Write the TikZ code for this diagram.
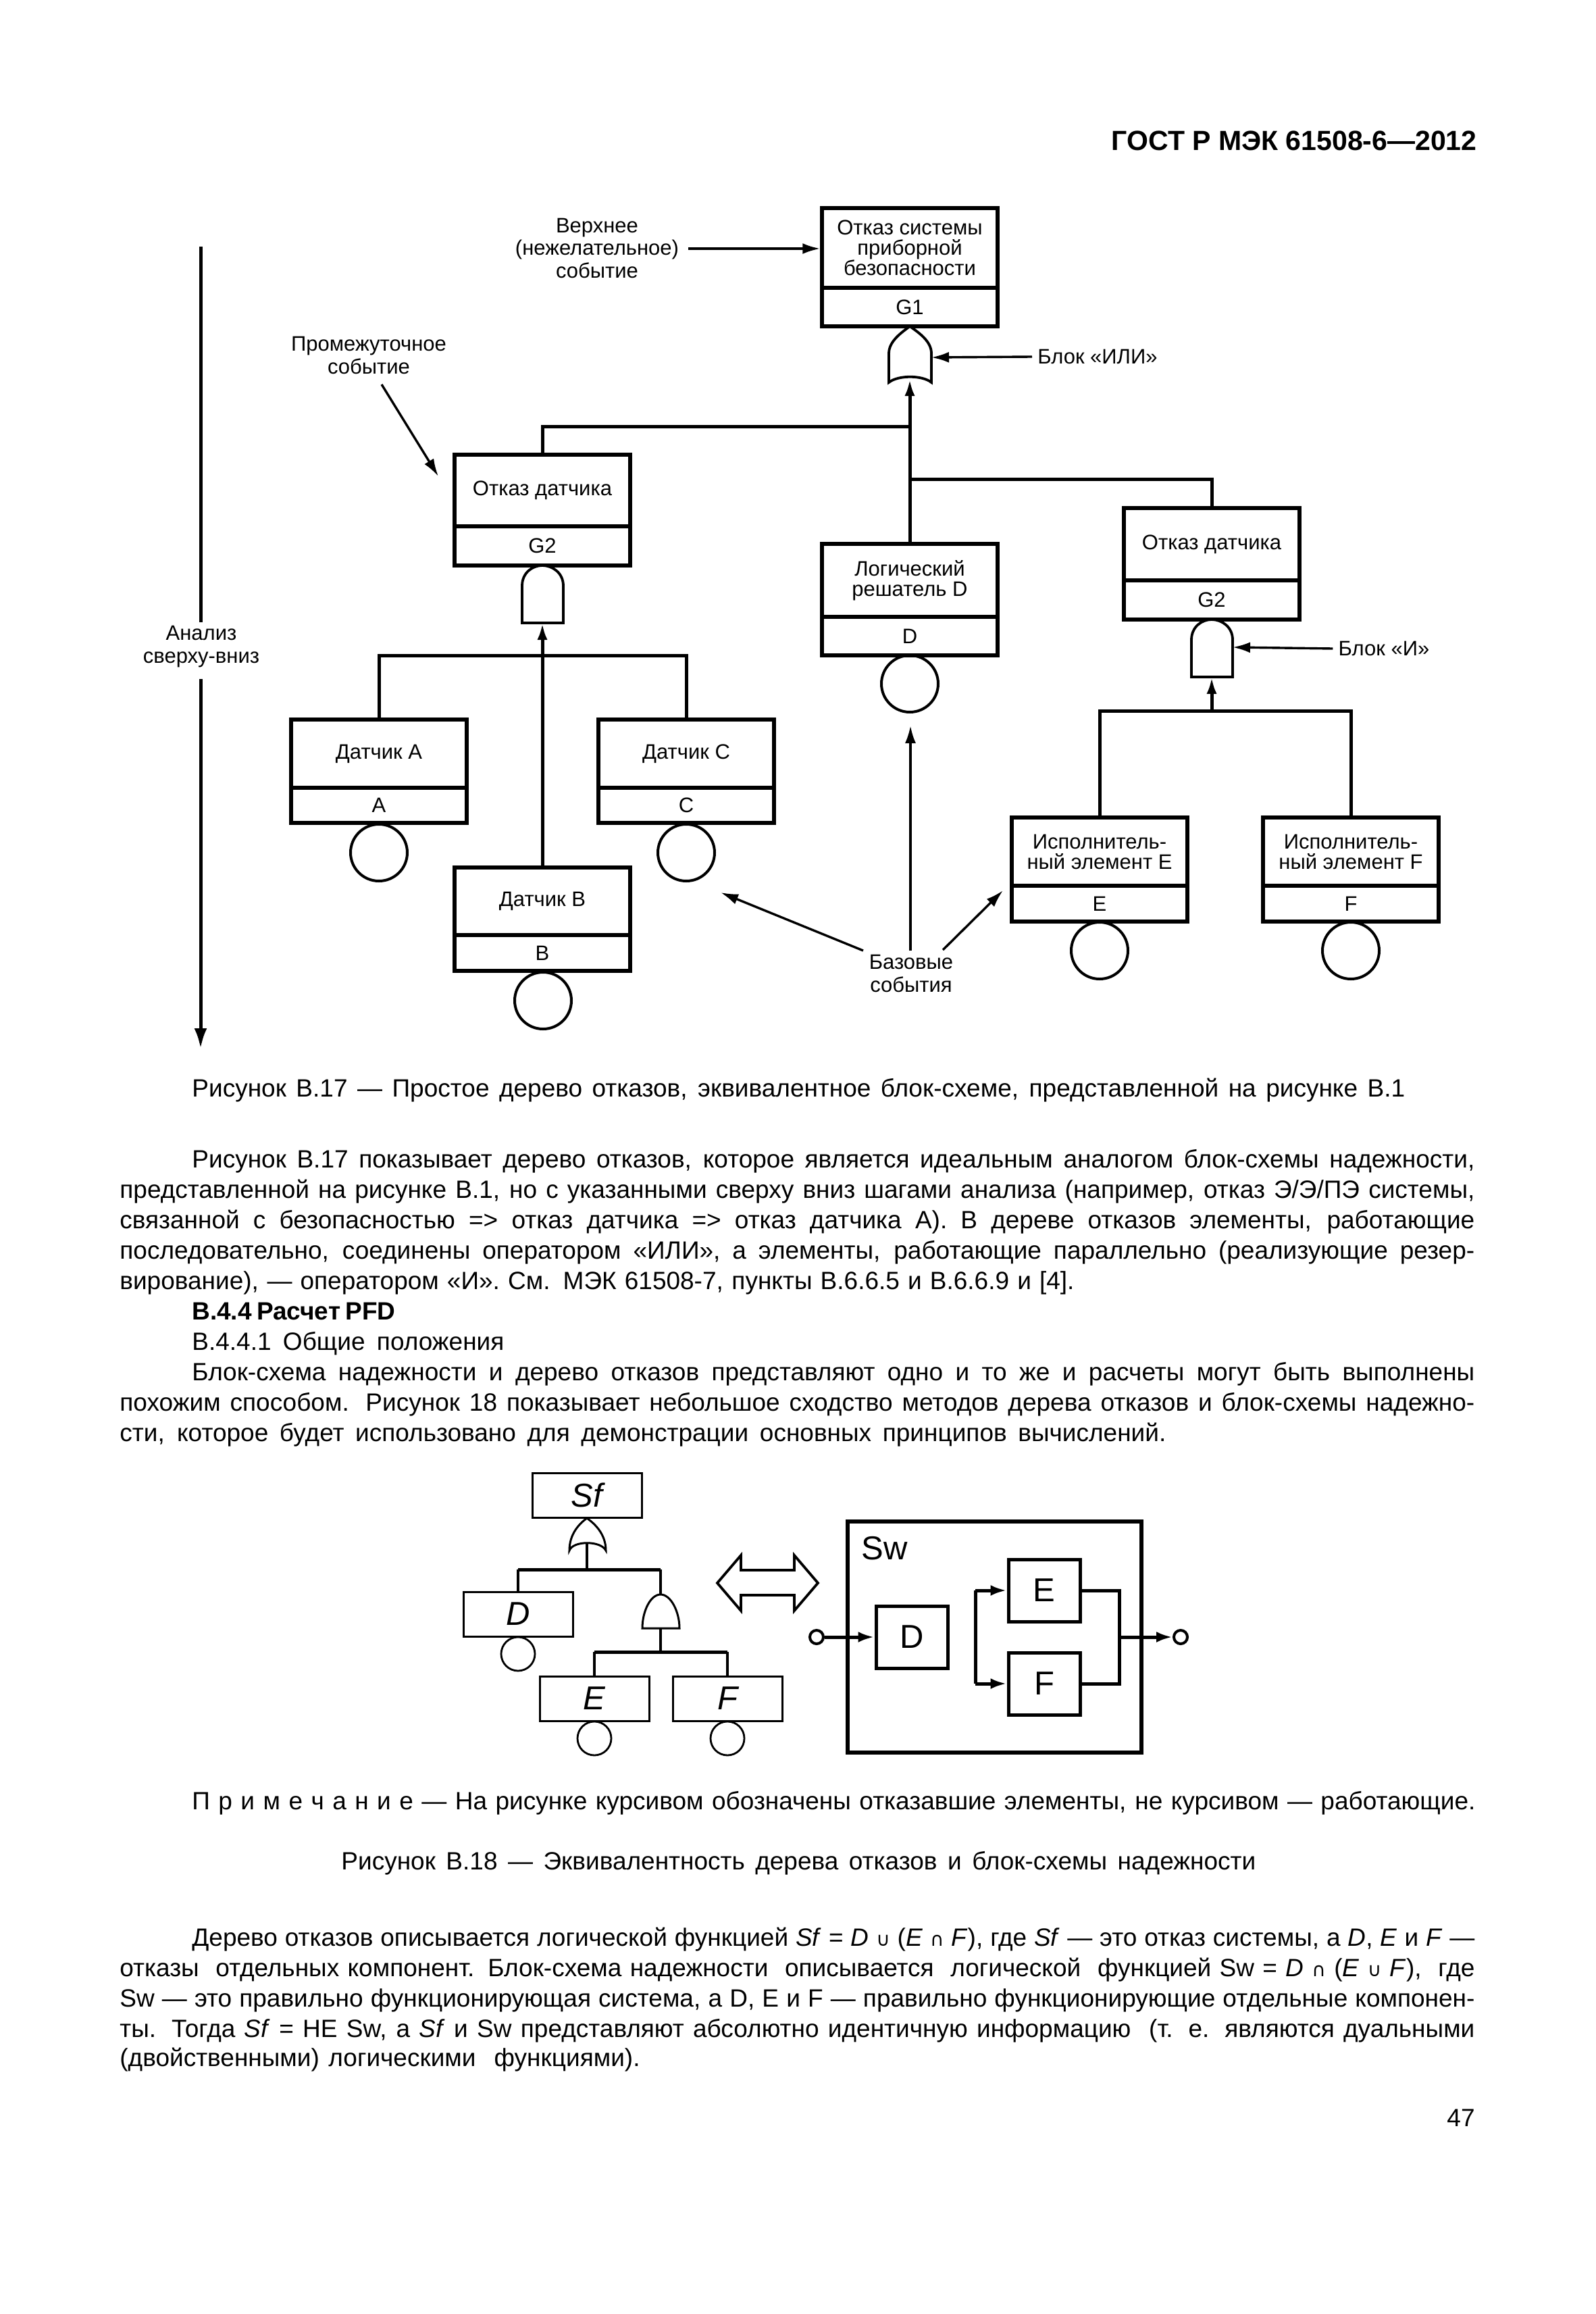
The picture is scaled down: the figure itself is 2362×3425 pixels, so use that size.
\documentclass[tikz,border=0pt]{standalone}
\usepackage{fontspec}
\setmainfont{Liberation Sans}
\newfontfamily\symf{DejaVu Sans}
\usetikzlibrary{arrows.meta}
\newcommand{\labelf}{\fontsize{15.5}{15}\selectfont}
\newcommand{\notef}{\fontsize{15.5}{16.75}\selectfont}
\newcommand{\bodyf}{\fontsize{18.5}{22.5}\selectfont}
\newcommand{\bigf}{\fontsize{24.5}{26}\selectfont}
\newcommand{\cupS}{{\symf\fontsize{14}{14}\selectfont ∪}}
\newcommand{\capS}{{\symf\fontsize{14}{14}\selectfont ∩}}
\tikzset{
  ftcell/.style={draw,line width=2.75pt,inner sep=0pt,minimum width=130pt,align=center,font=\labelf},
  evt/.style={draw,circle,line width=2pt,inner sep=0pt,minimum size=42pt},
  lbl/.style={inner sep=0pt,align=center,font=\notef},
  conn/.style={line width=2.5pt},
  connarrow/.style={line width=2.5pt,-{Latex[length=12.5pt,width=7.5pt]}},
  notearrow/.style={line width=1.7pt,-{Latex[length=13pt,width=8pt]}},
  gateline/.style={line width=1.9pt,fill=white},
  thinbox/.style={draw,line width=1.5pt,inner sep=0pt,minimum width=81pt,minimum height=33pt,font=\bigf\itshape},
  smallevt/.style={draw,circle,line width=1.4pt,inner sep=0pt,minimum size=25pt},
  rbdbox/.style={draw,line width=2.5pt,inner sep=0pt,minimum width=53pt,minimum height=46pt,font=\bigf},
  rbdconn/.style={line width=2.5pt},
  rbdarrow/.style={line width=2.5pt,-{Latex[length=12pt,width=8pt]}},
  smallbus/.style={line width=2.5pt},
  smallconn/.style={line width=1.8pt},
  bodytext/.style={anchor=base west,inner sep=0pt,font=\bodyf},
  orgate/.pic={\draw[gateline] (-31,83) -- (-31,40) .. controls (-31,22) and (-12,9) .. (0,0) .. controls (13,9) and (32,22) .. (32,40) -- (32,83) .. controls (18,72) and (-17,72) .. cycle;},
  andgate/.pic={\draw[gateline] (-30,85) -- (-30,30) .. controls (-30,11) and (-15,0) .. (0,0) .. controls (15,0) and (31,11) .. (31,30) -- (31,85) -- cycle;},
  smallor/.pic={\draw[line width=1.5pt,fill=white] (-26,48) .. controls (-26,23) and (-11,8) .. (0,0) .. controls (11,8) and (28,23) .. (28,48) .. controls (21,33) and (-21,33) .. cycle;},
  smalland/.pic={\draw[line width=1.5pt,fill=white] (-27,50) .. controls (-27,25) and (-15,0) .. (0,0) .. controls (15,0) and (28,25) .. (28,50) -- cycle;},
}
% name, centre x, top, divider, bottom, title, code
\newcommand{\FT}[7]{%
  \node[ftcell,minimum height={(#4-#3)*0.5pt}] (#1) at ({#2},{(#3+#4)/2}) {#6};
  \node[ftcell,minimum height={(#5-#4)*0.5pt}] (#1c) at ({#2},{(#4+#5)/2}) {#7};
}
% name, x, baseline, width in px, text
\newcommand{\Ln}[5]{\node[bodytext] (#1) at (#2,#3) {\hbox to \dimexpr#4pt/2\relax{#5}};}
\begin{document}
\begin{tikzpicture}[x=0.5pt,y=-0.5pt]
\useasboundingbox (0,0) rectangle (2362,3425);
\fill[white] (0,0) rectangle (2362,3425);

\node[anchor=base east,inner sep=0pt,font=\fontsize{20.5}{22}\selectfont\bfseries] (head) at (2187,223) {ГОСТ Р МЭК 61508-6—2012};

% Figure B.17 boxes
\FT{top}{1347}{308}{426}{483}{Отказ системы\\приборной\\безопасности}{G1}
\FT{gl}{803}{673}{779}{837}{Отказ датчика}{G2}
\FT{sol}{1347}{805}{913}{970}{Логический\\решатель D}{D}
\FT{gr}{1794}{752}{859}{917}{Отказ датчика}{G2}
\FT{a}{561}{1065}{1166}{1218}{Датчик A}{A}
\FT{c}{1016}{1065}{1166}{1218}{Датчик C}{C}
\FT{b}{803}{1284}{1384}{1437}{Датчик B}{B}
\FT{e}{1628}{1210}{1311}{1364}{Исполнитель-\\ный элемент E}{E}
\FT{f}{2000}{1210}{1311}{1364}{Исполнитель-\\ный элемент F}{F}

\node[evt] (so) at (1347,1012) {};
\node[evt] (ao) at (561,1262) {};
\node[evt] (co) at (1016,1262) {};
\node[evt] (bo) at (804,1481) {};
\node[evt] (eo) at (1628,1407) {};
\node[evt] (fo) at (2000,1407) {};

% gates
\pic at (1347,483) {orgate};
\pic at (803,837) {andgate};
\pic at (1794,917) {andgate};
\coordinate (orin) at (1347,561);
\coordinate (orside) at (1379,529);
\coordinate (glin) at (803,922);
\coordinate (grin) at (1794,1002);
\coordinate (grside) at (1825,958);
\coordinate (busT) at (1347,631);
\coordinate (busB) at (1347,709);
\coordinate (busL) at (803,970);
\coordinate (busR) at (1794,1052);

% connectors
\draw[connarrow] (sol.north) -- (orin);
\draw[conn] (gl.north) |- (busT);
\draw[conn] (busB) -| (gr.north);
\draw[connarrow] (b.north) -- (glin);
\draw[conn] (a.north) |- (busL);
\draw[conn] (c.north) |- (busL);
\draw[connarrow] (busR) -- (grin);
\draw[conn] (e.north) |- (busR);
\draw[conn] (f.north) |- (busR);

% annotations
\node[lbl] (tv) at (884,367) {Верхнее\\(нежелательное)\\событие};
\coordinate (tva) at (1019,368);
\draw[notearrow] (tva) -- (top.west |- tva);
\node[lbl] (pr) at (546,526) {Промежуточное\\событие};
\coordinate (pra) at (565,569);
\coordinate (prb) at (649,705);
\draw[notearrow] (pra) -- (prb);
\node[lbl] (bor) at (1625,528) {Блок «ИЛИ»};
\draw[notearrow] (bor.west) ++(-8,0) -- (orside);
\node[lbl] (band) at (2049,960) {Блок «И»};
\draw[notearrow] (band.west) ++(-8,0) -- (grside);
\node[lbl] (bas) at (1349,1441) {Базовые\\события};
\coordinate (ba1) at (1278,1407);
\coordinate (ba2) at (1067,1321);
\coordinate (ba3) at (1396,1406);
\coordinate (ba4) at (1485,1318);
\coordinate (ba5) at (1348,1407);
\coordinate (ba6) at (1348,1074);
\draw[notearrow] (ba1) -- (ba2);
\draw[notearrow] (ba3) -- (ba4);
\draw[notearrow] (ba5) -- (ba6);
\node[lbl] (an) at (298,957) {Анализ\\сверху-вниз};
\coordinate (anT) at (297,365);
\coordinate (anM) at (297,921);
\coordinate (anN) at (297,1005);
\coordinate (anB) at (297,1552);
\draw[line width=2.5pt] (anT) -- (anM);
\draw[line width=2.5pt,-{Latex[length=15pt,width=9.5pt]}] (anN) -- (anB);

\Ln{cap17}{284}{1623}{1796}{Рисунок В.17 — Простое дерево отказов, эквивалентное блок-схеме, представленной на рисунке В.1}

\Ln{p1}{284}{1728}{1899}{Рисунок В.17 показывает дерево отказов, которое является идеальным аналогом блок-схемы надежности,}
\Ln{p2}{177}{1773}{2006}{представленной на рисунке В.1, но с указанными сверху вниз шагами анализа (например, отказ Э/Э/ПЭ системы,}
\Ln{p3}{177}{1818}{2006}{связанной с безопасностью => отказ датчика => отказ датчика А). В дереве отказов элементы, работающие}
\Ln{p4}{177}{1863}{2006}{последовательно, соединены оператором «ИЛИ», а элементы, работающие параллельно (реализующие резер-}
\Ln{p5}{177}{1908}{1413}{вирование), — оператором «И». См. МЭК 61508-7, пункты В.6.6.5 и В.6.6.9 и [4].}
\Ln{p6}{284}{1953}{301}{\bfseries В.4.4 Расчет PFD}
\Ln{p7}{284}{1998}{462}{В.4.4.1 Общие положения}
\Ln{p8}{284}{2043}{1899}{Блок-схема надежности и дерево отказов представляют одно и то же и расчеты могут быть выполнены}
\Ln{p9}{177}{2088}{2006}{похожим способом. Рисунок 18 показывает небольшое сходство методов дерева отказов и блок-схемы надежно-}
\Ln{p10}{177}{2133}{1549}{сти, которое будет использовано для демонстрации основных принципов вычислений.}

% Figure B.18, fault tree
\node[thinbox] (sf) at (869,2213) {Sf};
\node[thinbox] (dd) at (767,2389) {D};
\node[thinbox] (ee) at (880,2514) {E};
\node[thinbox] (ff) at (1077,2514) {F};
\node[smallevt] (ddo) at (767,2448) {};
\node[smallevt] (eeo) at (880,2573) {};
\node[smallevt] (ffo) at (1077,2573) {};
\pic at (869,2247) {smallor};
\pic at (978,2360) {smalland};
\coordinate (orb) at (869,2284);
\coordinate (bus1) at (869,2323);
\coordinate (andt) at (978,2360);
\coordinate (andb) at (978,2410);
\coordinate (bus2) at (978,2445);
\draw[smallconn] (orb) -- (bus1);
\draw[smallconn] (dd.north) -- (dd.north |- bus1);
\draw[smallconn] (andt) -- (andt |- bus1);
\draw[smallbus] (dd.north |- bus1) -- (andt |- bus1);
\draw[smallconn] (andb) -- (bus2);
\draw[smallconn] (ee.north) -- (ee.north |- bus2);
\draw[smallconn] (ff.north) -- (ff.north |- bus2);
\draw[smallbus] (ee.north |- bus2) -- (ff.north |- bus2);

% double arrow
\draw[line width=1.9pt,line join=miter] (1062,2343) -- (1097,2302) -- (1097,2324) -- (1176,2324) -- (1176,2302) -- (1211,2343) -- (1176,2384) -- (1176,2361) -- (1097,2361) -- (1097,2384) -- cycle;

% Figure B.18, reliability block diagram
\node[draw,line width=2.6pt,inner sep=0pt,minimum width=217.5pt,minimum height=171pt] (sw) at (1472.5,2423) {};
\node[anchor=west,inner sep=0pt,font=\bigf] (swt) at (1275,2292) {Sw};
\node[rbdbox] (rd) at (1350,2423) {D};
\node[rbdbox] (re) at (1546,2354) {E};
\node[rbdbox] (rf) at (1546,2492) {F};
\node[draw,circle,line width=2pt,inner sep=0pt,minimum size=10pt] (in) at (1209,2423) {};
\node[draw,circle,line width=2pt,inner sep=0pt,minimum size=10pt] (out) at (1748,2423) {};
\coordinate (railL) at (1444,2423);
\coordinate (railR) at (1657,2423);
\draw[rbdarrow] (in) -- (rd);
\draw[rbdarrow] (railL |- re.west) -- (re.west);
\draw[rbdarrow] (railL |- rf.west) -- (rf.west);
\draw[rbdconn] (railL |- re.west) -- (railL |- rf.west);
\draw[rbdconn] (re.east) -| (railR |- rf.east) -- (rf.east);
\draw[rbdarrow] (railR) -- (out);

\Ln{note}{284}{2678}{1900}{П р и м е ч а н и е — На рисунке курсивом обозначены отказавшие элементы, не курсивом — работающие.}
\Ln{cap18}{505}{2767}{1354}{Рисунок В.18 — Эквивалентность дерева отказов и блок-схемы надежности}

\Ln{q1}{284}{2880}{1899}{Дерево отказов описывается логической функцией \textit{Sf} = \textit{D} \cupS{} (\textit{E} \capS{} \textit{F}), где \textit{Sf} — это отказ системы, а \textit{D}, \textit{E} и \textit{F} —}
\Ln{q2}{177}{2925}{2006}{отказы\ \ отдельных компонент. Блок-схема надежности\ \ описывается\ \ логической\ \ функцией Sw = \textit{D} \capS{} (\textit{E} \cupS{} \textit{F}),\ \ где}
\Ln{q3}{177}{2970}{2006}{Sw — это правильно функционирующая система, а D, E и F — правильно функционирующие отдельные компонен-}
\Ln{q4}{177}{3015}{2006}{ты. Тогда \textit{Sf} = НЕ Sw, а \textit{Sf} и Sw представляют абсолютно идентичную информацию\ \ (т. е. являются дуальными}
\Ln{q5}{177}{3058}{770}{(двойственными) логическими\ \ функциями).}

\node[anchor=base east,inner sep=0pt,font=\bodyf] (pg) at (2184,3147) {47};
\end{tikzpicture}
\end{document}
